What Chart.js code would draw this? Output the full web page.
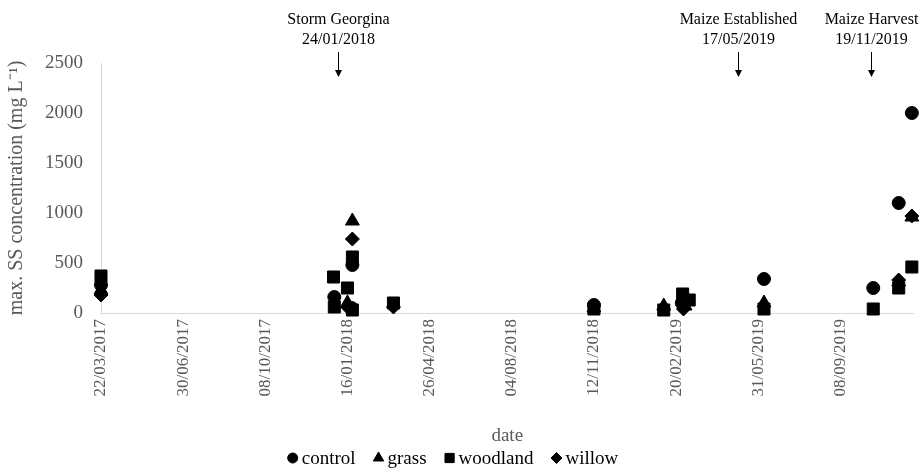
<!DOCTYPE html>
<html><head><meta charset="utf-8">
<script src="https://cdn.jsdelivr.net/npm/chart.js@4/dist/chart.umd.min.js"></script>
<style>html,body{margin:0;padding:0;background:#fff}#wrap{width:923px;height:469px}</style>
</head><body><div id="wrap"><canvas id="c" width="923" height="469"></canvas></div>
<script>
// ---- data (dates dd/mm/yyyy, values mg/L) ----
const xTickLabels = ['22/03/2017','30/06/2017','08/10/2017','16/01/2018','26/04/2018','04/08/2018','12/11/2018','20/02/2019','31/05/2019','08/09/2019'];
const xMinDate = '22/03/2017';
const xMaxDate = '06/12/2019';
const yTicks = [0, 500, 1000, 1500, 2000, 2500];

const controlDates  = ['22/03/2017','31/12/2017','22/01/2018','21/01/2018','12/11/2018','27/02/2019','07/06/2019','18/10/2019','18/11/2019','04/12/2019'];
const controlValues = [280, 160, 480, 50, 80, 100, 340, 250, 1100, 2000];

const grassDates  = ['22/03/2017','16/01/2018','22/01/2018','12/11/2018','05/02/2019','03/03/2019','07/06/2019','18/11/2019','04/12/2019'];
const grassValues = [230, 100, 920, 50, 70, 70, 100, 310, 960];

const woodlandDates  = ['22/03/2017','30/12/2017','31/12/2017','16/01/2018','22/01/2018','22/01/2018','13/03/2018','12/11/2018','05/02/2019','28/02/2019','08/03/2019','07/06/2019','18/10/2019','18/11/2019','04/12/2019'];
const woodlandValues = [370, 360, 60, 250, 560, 30, 100, 40, 30, 190, 130, 40, 40, 250, 460];

const willowDates  = ['22/03/2017','16/01/2018','22/01/2018','13/03/2018','01/03/2019','18/11/2019','04/12/2019'];
const willowValues = [180, 60, 740, 60, 40, 330, 970];

const seriesNames = ['control', 'grass', 'woodland', 'willow'];

const annotationTitles = ['Storm Georgina', 'Maize Established', 'Maize Harvest'];
const annotationDates  = ['24/01/2018', '17/05/2019', '19/11/2019'];
const annotationAnchors = ['05/01/2018', '06/05/2019', '15/10/2019'];

// ---- helpers ----
function toDay(s){ const p = s.split('/').map(Number); return Date.UTC(p[2], p[1]-1, p[0]) / 86400000; }
function pts(dates, vals){ return dates.map((d,i)=>({x: toDay(d), y: vals[i]})); }

const FONT = '"Liberation Serif", "Times New Roman", serif';
Chart.defaults.font.family = FONT;
Chart.defaults.color = '#595959';

const legendRadius = { circle: 5, triangle: 6, rect: 6.5, rectRot: 5.5 };

const annotPlugin = {
  id: 'annot',
  afterDraw(chart){
    const ctx = chart.ctx, xs = chart.scales.x;
    ctx.save();
    ctx.fillStyle = '#000'; ctx.strokeStyle = '#000';
    ctx.font = '16px ' + FONT;
    ctx.textAlign = 'center'; ctx.textBaseline = 'middle';
    annotationTitles.forEach((t,i)=>{
      const x = Math.round(xs.getPixelForValue(toDay(annotationAnchors[i]))) + 0.5;
      ctx.fillText(t, x, 20);
      ctx.fillText(annotationDates[i], x, 40);
      ctx.lineWidth = 1;
      ctx.beginPath(); ctx.moveTo(x, 52); ctx.lineTo(x, 72); ctx.stroke();
      ctx.beginPath(); ctx.moveTo(x-3.5, 70); ctx.lineTo(x+3.5, 70); ctx.lineTo(x, 77); ctx.closePath(); ctx.fill();
    });
    // legend
    ctx.font = '19px ' + FONT;
    ctx.textAlign = 'left';
    const ds = chart.data.datasets;
    const widths = ds.map(d => ctx.measureText(d.label).width);
    let total = 0;
    ds.forEach((d,i)=>{ total += 18 + widths[i] + (i < ds.length-1 ? 14 : 0); });
    let x = 455 - total/2;
    const y = 458;
    ds.forEach((d,i)=>{
      ctx.fillStyle = '#000'; ctx.strokeStyle = '#000';
      Chart.helpers.drawPoint(ctx, { pointStyle: d.pointStyle, radius: legendRadius[d.pointStyle], rotation: 0, borderWidth: 1 }, x + 5, y);
      ctx.fillStyle = '#000';
      ctx.fillText(d.label, x + 14, y + 1);
      x += 18 + widths[i] + 14;
    });
    ctx.restore();
  }
};

const mk = (label, data, style, r) => ({
  label, data, pointStyle: style, pointRadius: r, pointHoverRadius: r,
  backgroundColor: '#000', borderColor: '#000', borderWidth: 1, showLine: false, clip: false
});

new Chart(document.getElementById('c'), {
  type: 'scatter',
  data: { datasets: [
    mk(seriesNames[0], pts(controlDates, controlValues), 'circle', 6.5),
    mk(seriesNames[1], pts(grassDates, grassValues), 'triangle', 8),
    mk(seriesNames[2], pts(woodlandDates, woodlandValues), 'rect', 8.5),
    mk(seriesNames[3], pts(willowDates, willowValues), 'rectRot', 7)
  ]},
  options: {
    responsive: false, animation: false,
    layout: { padding: { top: 63, right: 6, bottom: 0, left: 0 } },
    plugins: { tooltip: { enabled: false }, legend: { display: false } },
    scales: {
      x: {
        type: 'linear', min: toDay(xMinDate), max: toDay(xMaxDate),
        afterBuildTicks: s => { s.ticks = xTickLabels.map(l => ({ value: toDay(l) })); },
        afterFit: s => { s.height = 156; },
        grid: { color: 'transparent', drawTicks: false },
        border: { display: true, color: '#d9d9d9', width: 1 },
        ticks: { autoSkip: false, minRotation: 90, maxRotation: 90, padding: 6, color: '#595959',
                 font: { size: 17 }, callback: (v, i) => xTickLabels[i] },
        title: { display: true, text: 'date', color: '#595959', font: { size: 19 }, padding: { top: 0, bottom: 22 } }
      },
      y: {
        min: 0, max: 2500,
        afterBuildTicks: s => { s.ticks = yTicks.map(v => ({ value: v })); },
        afterFit: s => { s.width = 101; },
        grid: { color: 'transparent', drawTicks: false },
        border: { display: true, color: '#d9d9d9', width: 1 },
        ticks: { padding: 18, color: '#595959', font: { size: 19 }, callback: v => String(v) },
        title: { display: true, text: 'max. SS concentration (mg L\u207B\u00B9)', color: '#595959',
                 font: { size: 20 }, padding: { top: 5, bottom: 0 } }
      }
    }
  },
  plugins: [annotPlugin]
});
</script></body></html>
